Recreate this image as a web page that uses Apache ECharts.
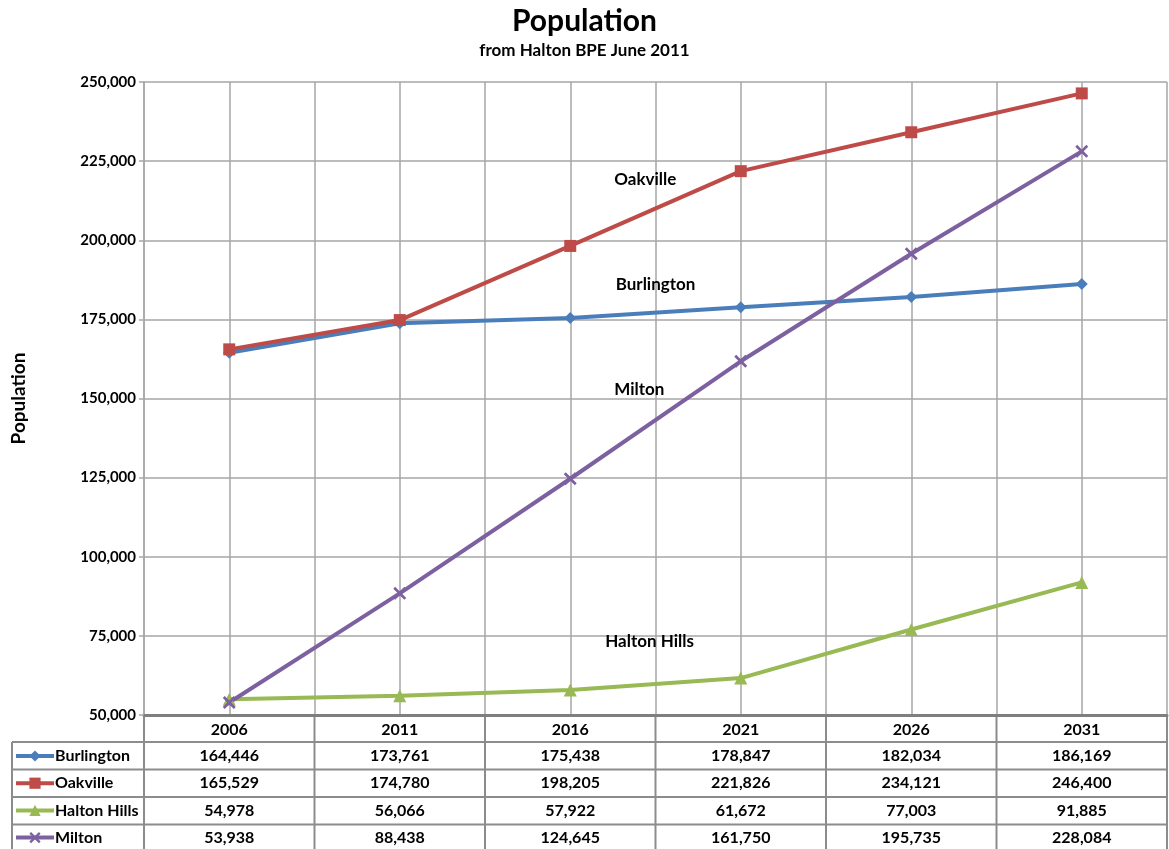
<!DOCTYPE html>
<html>
<head>
<meta charset="utf-8">
<script src="https://cdn.jsdelivr.net/npm/echarts@6/dist/echarts.min.js"></script>
<style>
  html, body { margin: 0; padding: 0; background: #fff; }
  #chart { width: 1169px; height: 849px; }
</style>
</head>
<body>
<div id="chart"></div>
<script>
// data
var years = ['2006', '2011', '2016', '2021', '2026', '2031']
var burlington = [164446, 173761, 175438, 178847, 182034, 186169]
var oakville = [165529, 174780, 198205, 221826, 234121, 246400]
var haltonHills = [54978, 56066, 57922, 61672, 77003, 91885]
var milton = [53938, 88438, 124645, 161750, 195735, 228084]
var yTicks = [50000, 75000, 100000, 125000, 150000, 175000, 200000, 225000, 250000]

var font = 'Lato'
var gridColor = '#a6a6a6'
var xMark = 'path://M0,1.5 L1.5,0 L5,3.5 L8.5,0 L10,1.5 L6.5,5 L10,8.5 L8.5,10 L5,6.5 L1.5,10 L0,8.5 L3.5,5 Z'

var seriesList = [
    { name: 'Burlington', data: burlington, color: '#4a7ebb', symbol: 'diamond', size: 12 },
    { name: 'Oakville', data: oakville, color: '#be4b48', symbol: 'rect', size: 12 },
    { name: 'Halton Hills', data: haltonHills, color: '#98b954', symbol: 'triangle', size: 13 },
    { name: 'Milton', data: milton, color: '#7d60a0', symbol: xMark, size: 13 }
]

// in-plot labels (x in half-category units, y in data units)
var notes = [
    { text: 'Oakville', x: 5.88, y: 219300 },
    { text: 'Burlington', x: 6.0, y: 185900 },
    { text: 'Milton', x: 5.81, y: 152700 },
    { text: 'Halton Hills', x: 5.93, y: 73100 }
]

function fmt(v) {
    return v.toLocaleString('en-US')
}

var chart = echarts.init(document.getElementById('chart'))

var rowTop = 742
var rowH = 27.5

chart.setOption({
    animation: false,
    textStyle: { fontFamily: font },
    title: [
        {
            text: 'Population',
            left: 'center',
            top: 1,
            textStyle: { fontFamily: font, fontSize: 30, fontWeight: 'bold', color: '#000' }
        },
        {
            text: 'from Halton BPE June 2011',
            left: 'center',
            top: 37,
            textStyle: { fontFamily: font, fontSize: 17, fontWeight: 'bold', color: '#000' }
        }
    ],
    legend: {
        orient: 'vertical',
        left: 14,
        top: rowTop + 6,
        height: 140,
        padding: 0,
        itemWidth: 38,
        itemHeight: 14,
        itemGap: 11.2,
        selectedMode: false,
        lineStyle: { width: 4 },
        textStyle: { fontFamily: font, fontSize: 16, lineHeight: 14, fontWeight: 'bold', color: '#000', padding: [0, 0, 0, -4] },
        data: seriesList.map(function(s) { return s.name })
    },
    grid: { left: 144, right: 2, top: 82, bottom: 134 },
    xAxis: [
        {
            type: 'category',
            data: years,
            boundaryGap: true,
            axisLine: { lineStyle: { color: '#7f7f7f', width: 3 } },
            axisTick: { show: false },
            axisLabel: { margin: 7, fontFamily: font, fontSize: 16, fontWeight: 'bold', color: '#000' },
            splitLine: { show: false }
        },
        {
            type: 'value',
            min: 0,
            max: 12,
            interval: 1,
            position: 'bottom',
            axisLine: { show: false },
            axisTick: { show: false },
            axisLabel: { show: false },
            splitLine: { show: true, lineStyle: { color: gridColor, width: 1.5 } }
        }
    ],
    yAxis: {
        type: 'value',
        min: yTicks[0],
        max: yTicks[yTicks.length - 1],
        interval: 25000,
        name: 'Population',
        nameLocation: 'middle',
        nameGap: 116,
        nameTextStyle: { fontFamily: font, fontSize: 19, fontWeight: 'bold', color: '#000' },
        axisLine: { show: true, lineStyle: { color: gridColor, width: 1.5 } },
        axisTick: { show: true, length: 5, lineStyle: { color: gridColor, width: 1.5 } },
        axisLabel: {
            margin: 8,
            fontFamily: font, fontSize: 15, fontWeight: 'bold', color: '#000',
            formatter: function(v) { return fmt(v) }
        },
        splitLine: { lineStyle: { color: gridColor, width: 1.5 } }
    },
    series: seriesList.map(function(s) {
        return {
            name: s.name,
            type: 'line',
            xAxisIndex: 0,
            data: s.data,
            symbol: s.symbol,
            symbolSize: s.size,
            showSymbol: true,
            color: s.color,
            lineStyle: { color: s.color, width: 4 },
            itemStyle: { color: s.color }
        }
    })
})

// data table + notes drawn from the axes
function drawExtras() {
    var g = []
    var left = 12
    var plotRight = chart.convertToPixel({ xAxisIndex: 1 }, 12)
    var axisY = chart.convertToPixel({ yAxisIndex: 0 }, yTicks[0])
    var bottom = rowTop + rowH * seriesList.length
    var lineStyle = { stroke: '#8c8c8c', lineWidth: 2 }

    // horizontal rules
    for (var r = 0; r <= seriesList.length; r++) {
        var y = rowTop + rowH * r
        g.push({ type: 'line', shape: { x1: left, y1: y, x2: plotRight, y2: y }, style: lineStyle, silent: true })
    }
    // vertical rules
    g.push({ type: 'line', shape: { x1: left, y1: rowTop, x2: left, y2: bottom }, style: lineStyle, silent: true })
    for (var c = 0; c <= years.length; c++) {
        var x = chart.convertToPixel({ xAxisIndex: 1 }, c * 2)
        g.push({ type: 'line', shape: { x1: x, y1: axisY + 1, x2: x, y2: bottom }, style: lineStyle, silent: true })
    }
    // values
    seriesList.forEach(function(s, i) {
        var cy = rowTop + rowH * i + rowH / 2
        s.data.forEach(function(v, j) {
            var cx = chart.convertToPixel({ xAxisIndex: 0 }, years[j])
            g.push({
                type: 'text', x: cx, y: cy, silent: true,
                style: { text: fmt(v), align: 'center', verticalAlign: 'middle',
                    font: 'bold 16px ' + font, fill: '#000' }
            })
        })
    })
    // notes in plot
    notes.forEach(function(n) {
        var p = chart.convertToPixel({ xAxisIndex: 1, yAxisIndex: 0 }, [n.x, n.y])
        g.push({
            type: 'text', x: p[0], y: p[1], silent: true, z: 10,
            style: { text: n.text, align: 'center', verticalAlign: 'middle',
                font: 'bold 17px ' + font, fill: '#000' }
        })
    })
    chart.setOption({ graphic: g })
}
drawExtras()
</script>
</body>
</html>
